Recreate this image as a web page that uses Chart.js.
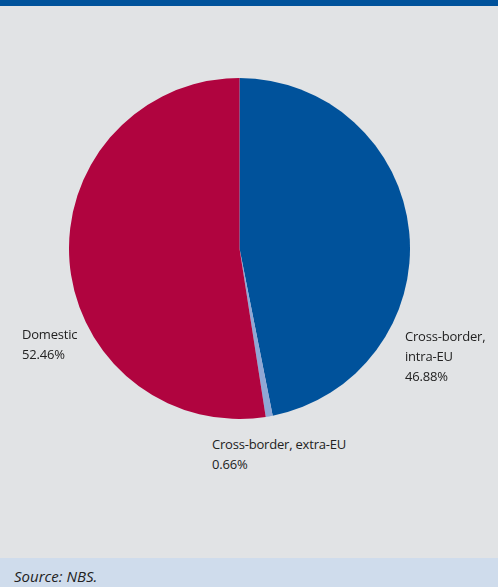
<!DOCTYPE html>
<html>
<head>
<meta charset="utf-8">
<script src="https://cdn.jsdelivr.net/npm/chart.js@4/dist/chart.umd.min.js"></script>
<style>
  body { margin: 0; width: 498px; height: 587px; background: #e1e3e5; position: relative; overflow: hidden;
         font-family: "Open Sans", "Noto Sans", sans-serif; color: #222; }
  .topbar { position: absolute; left: 0; top: 0; width: 498px; height: 6px; background: #00529b; }
  .pie { position: absolute; left: 69px; top: 78px; width: 341px; height: 341px; }
  .lbl { position: absolute; font-size: 13px; line-height: 20px; letter-spacing: -0.2px; }
  .source { position: absolute; left: 0; top: 558px; width: 498px; height: 29px; background: #cfdcec;
            font-style: italic; font-size: 15px; line-height: 36px; padding-left: 14px; box-sizing: border-box; color: #222; }
</style>
</head>
<body>
<div class="topbar"></div>
<div class="pie"><canvas id="ctx"></canvas></div>
<div class="lbl" id="lbl0" style="left:405px; top:326px;"></div>
<div class="lbl" id="lbl1" style="left:212px; top:434px;"></div>
<div class="lbl" id="lbl2" style="left:22px; top:324px;"></div>
<div class="source">Source: NBS.</div>
<script>
const categories = ['Cross-border, intra-EU', 'Cross-border, extra-EU', 'Domestic'];
const labelLines = [['Cross-border,', 'intra-EU'], ['Cross-border, extra-EU'], ['Domestic']];
const shares = [46.88, 0.66, 52.46];
const colors = ['#00529b', '#8fa7d5', '#b0043f'];

shares.forEach((v, i) => {
  document.getElementById('lbl' + i).innerHTML =
    labelLines[i].concat([v.toFixed(2) + '%']).join('<br>');
});

new Chart(document.getElementById('ctx'), {
  type: 'pie',
  data: {
    labels: categories,
    datasets: [{
      data: shares,
      backgroundColor: colors,
      borderWidth: 0
    }]
  },
  options: {
    responsive: true,
    maintainAspectRatio: false,
    animation: false,
    layout: { padding: 0 },
    plugins: { legend: { display: false }, tooltip: { enabled: false } }
  }
});
</script>
</body>
</html>
